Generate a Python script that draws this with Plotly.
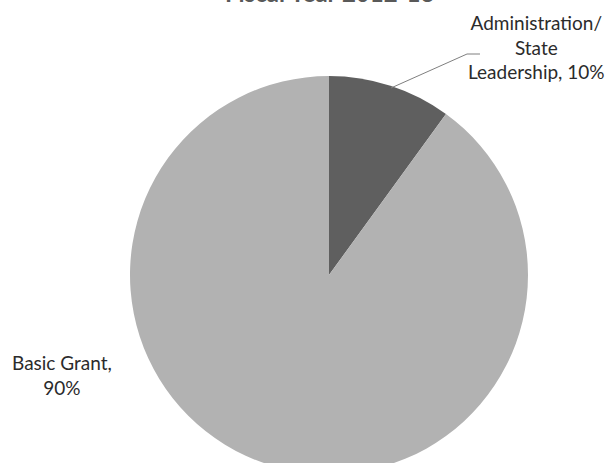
import plotly.graph_objects as go

title = "Fiscal Year 2012-13"
labels = ["Administration/ State Leadership", "Basic Grant"]
label_text = ["Administration/<br>State<br>Leadership, 10%", "Basic Grant,<br>90%"]
values = [10, 90]
colors = ["#5f5f5f", "#b2b2b2"]

W, H = 611, 478

def px(x, y):
    # pixel position (from top-left) -> paper coordinates
    return x / W, (H - y) / H

fig = go.Figure()
fig.add_trace(go.Pie(
    labels=labels, values=values, sort=False, direction="clockwise", rotation=0,
    marker=dict(colors=colors, line=dict(color="white", width=0)),
    textinfo="none", hoverinfo="label+percent", showlegend=False,
    domain=dict(x=[130 / W, 528 / W], y=[(H - 474) / H, (H - 76) / H]),
))

font = dict(family="Lato, Open Sans, sans-serif", size=19, color="#2b2b2b")
tx, ty = px(536, 47)
fig.add_annotation(x=tx, y=ty, xref="paper", yref="paper", text=label_text[0],
                   showarrow=False, font=font, align="center",
                   xanchor="center", yanchor="middle")
tx, ty = px(62, 375)
fig.add_annotation(x=tx, y=ty, xref="paper", yref="paper", text=label_text[1],
                   showarrow=False, font=font, align="center",
                   xanchor="center", yanchor="middle")

# title sits mostly above the top edge, as in the reference
tx, ty = px(329, 8.5)
fig.add_annotation(x=tx, y=ty, xref="paper", yref="paper", text="<b>%s</b>" % title,
                   showarrow=False, xanchor="center", yanchor="bottom",
                   font=dict(family="Lato, Open Sans, sans-serif", size=24, color="#595959"))

# leader line for the small slice
x0, y0 = px(391, 88)
x1, y1 = px(467, 54)
x2, y2 = px(480, 54)
fig.add_shape(type="path", xref="paper", yref="paper",
              path="M %f %f L %f %f L %f %f" % (x0, y0, x1, y1, x2, y2),
              line=dict(color="#7f7f7f", width=1))

fig.update_layout(width=W, height=H, margin=dict(l=0, r=0, t=0, b=0),
                  paper_bgcolor="white", plot_bgcolor="white")

fig.write_html("out.html", config={"displayModeBar": False},
               post_script="document.body.style.margin='0';document.body.style.overflow='hidden';")
